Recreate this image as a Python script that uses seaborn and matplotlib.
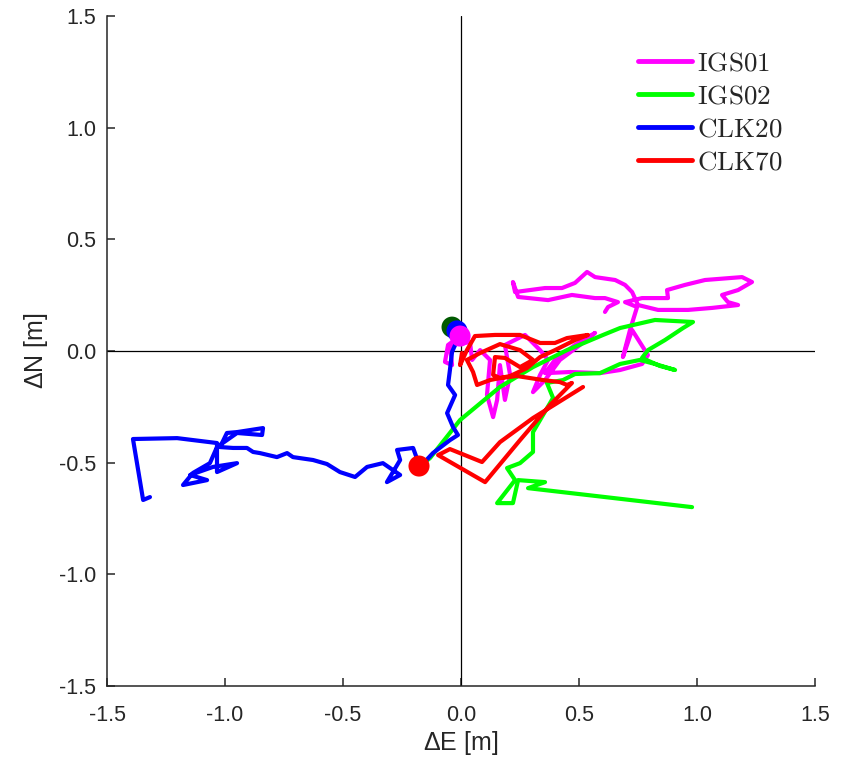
import numpy as np
import pandas as pd
import matplotlib
matplotlib.use("Agg")
import matplotlib.pyplot as plt
import seaborn as sns

# ---------------- data (metres) ----------------
igs01_e = [-0.004, -0.055, -0.068, -0.038, -0.047, 0.038, 0.047, 0.081, 0.123, 0.110, 0.136, 0.153,
           0.165, 0.186, 0.208, 0.186, 0.271, 0.335, 0.369, 0.335, 0.305, 0.356, 0.419, 0.504, 0.568,
           0.483, 0.398, 0.356, 0.462, 0.589, 0.674, 0.767, 0.792, 0.725, 0.686, 0.716, 0.746, 0.695,
           0.767, 0.877, 0.873, 0.949, 1.034, 1.191, 1.233, 1.174, 1.106, 1.131, 1.174, 1.064, 0.962,
           0.835, 0.750, 0.725, 0.695, 0.653, 0.568, 0.534, 0.483, 0.428, 0.356, 0.229, 0.220, 0.242,
           0.369, 0.470, 0.568, 0.610, 0.665, 0.623, 0.610]
igs01_n = [0.067, 0.027, -0.049, -0.063, 0.027, 0.040, -0.040, 0.004, -0.040, -0.197, -0.296, -0.219,
           -0.063, -0.219, -0.107, 0.027, 0.072, 0.004, -0.040, -0.107, -0.184, -0.130, -0.040, 0.027, 0.081,
           0.027, -0.040, -0.099, -0.094, -0.099, -0.085, -0.058, -0.018, 0.094, -0.027, 0.094, 0.197, 0.219,
           0.237, 0.237, 0.273, 0.296, 0.318, 0.331, 0.309, 0.273, 0.251, 0.219, 0.206, 0.193, 0.184,
           0.184, 0.206, 0.264, 0.296, 0.318, 0.331, 0.354, 0.305, 0.282, 0.282, 0.264, 0.309, 0.242,
           0.228, 0.251, 0.237, 0.237, 0.219, 0.197, 0.175]

igs02_e = [-0.174, -0.131, -0.004, 0.165, 0.305, 0.449, 0.602, 0.674, 0.822, 0.983, 0.941, 0.864,
           0.792, 0.767, 0.843, 0.907, 0.822, 0.758, 0.674, 0.589, 0.483, 0.432, 0.364, 0.390, 0.335,
           0.305, 0.305, 0.250, 0.195, 0.229, 0.153, 0.220, 0.242, 0.356, 0.284, 0.979]
igs02_n = [-0.515, -0.479, -0.309, -0.161, -0.072, 0.004, 0.072, 0.103, 0.139, 0.130, 0.103, 0.049,
           0.004, -0.031, -0.067, -0.085, -0.058, -0.040, -0.058, -0.099, -0.103, -0.130, -0.143, -0.210, -0.309,
           -0.363, -0.452, -0.502, -0.524, -0.578, -0.681, -0.681, -0.578, -0.587, -0.614, -0.699]

clk20_e = [-0.013, -0.025, -0.038, -0.047, -0.055, -0.025, -0.059, -0.034, -0.013, -0.047, -0.119, -0.174,
           -0.203, -0.271, -0.258, -0.314, -0.258, -0.331, -0.398, -0.449, -0.513, -0.568, -0.627, -0.712,
           -0.737, -0.780, -0.852, -0.881, -0.907, -0.966, -1.021, -0.992, -0.949, -0.839, -0.843, -0.949,
           -1.034, -1.064, -1.136, -1.178, -1.076, -1.148, -1.051, -0.949, -1.034, -1.034, -1.203, -1.390,
           -1.347, -1.318]
clk20_n = [0.081, 0.027, -0.004, -0.085, -0.152, -0.197, -0.278, -0.340, -0.376, -0.399, -0.457, -0.519,
           -0.434, -0.443, -0.488, -0.587, -0.555, -0.502, -0.519, -0.564, -0.542, -0.506, -0.488, -0.475,
           -0.457, -0.475, -0.457, -0.452, -0.434, -0.434, -0.430, -0.367, -0.363, -0.345, -0.376, -0.367,
           -0.430, -0.502, -0.546, -0.600, -0.578, -0.555, -0.519, -0.502, -0.542, -0.412, -0.390, -0.394,
           -0.667, -0.654]

clk70_e = [0.004, -0.004, 0.025, 0.059, 0.144, 0.250, 0.335, 0.398, 0.449, 0.538, 0.483, 0.398, 0.335,
           0.280, 0.208, 0.123, 0.068, 0.051, 0.025, 0.081, 0.165, 0.250, 0.305, 0.250, 0.186, 0.144, 0.136,
           0.165, 0.237, 0.347, 0.419, 0.449, 0.470, 0.377, 0.250, 0.102, -0.097, -0.047, 0.089, 0.165,
           0.305, 0.517]
clk70_n = [-0.009, -0.063, 0.004, 0.067, 0.072, 0.072, 0.036, 0.036, 0.058, 0.072, 0.049, 0.004, -0.027,
           -0.076, -0.112, -0.130, -0.152, -0.094, -0.040, -0.009, 0.031, 0.004, -0.040, -0.072, -0.031, -0.027,
           -0.107, -0.121, -0.112, -0.130, -0.139, -0.152, -0.143, -0.242, -0.399, -0.587, -0.466, -0.439,
           -0.497, -0.408, -0.300, -0.161]

# start markers
marker_names = ["IGS02", "CLK20", "IGS01", "CLK70"]
marker_e = [-0.038, -0.017, -0.004, -0.178]
marker_n = [0.107, 0.090, 0.067, -0.515]

series_names = ["IGS01", "IGS02", "CLK20", "CLK70"]
series_colors = ["#ff00ff", "#00ff00", "#0000ff", "#ff0000"]
marker_colors = ["#005a00", "#0000ff", "#ff00ff", "#ff0000"]

# ---------------- figure ----------------
sns.set_theme(style="white")
plt.rcParams["font.family"] = ["Liberation Sans", "DejaVu Sans"]
plt.rcParams["mathtext.fontset"] = "cm"

fig = plt.figure(figsize=(8.48, 7.66), dpi=100)
ax = fig.add_axes([0.1262, 0.1044, 0.8349, 0.8747])

ax.axhline(0, color="black", lw=0.9, zorder=1)
ax.axvline(0, color="black", lw=0.9, zorder=1)

data = {
    "IGS01": (igs01_e, igs01_n),
    "IGS02": (igs02_e, igs02_n),
    "CLK20": (clk20_e, clk20_n),
    "CLK70": (clk70_e, clk70_n),
}
for name, col in zip(series_names, series_colors):
    e, n = data[name]
    df = pd.DataFrame({"E": e, "N": n})
    sns.lineplot(data=df, x="E", y="N", sort=False, estimator=None, color=col,
                 lw=3.0, ax=ax, label=r"$\mathrm{%s}$" % name, zorder=3,
                 solid_joinstyle="round", solid_capstyle="round")

for i in range(len(marker_e)):
    sns.scatterplot(x=[marker_e[i]], y=[marker_n[i]], color=marker_colors[i], s=230,
                    edgecolor="none", ax=ax, zorder=5, legend=False)

ax.set_xlim(-1.5, 1.5)
ax.set_ylim(-1.5, 1.5)
ticks = [-1.5, -1.0, -0.5, 0.0, 0.5, 1.0, 1.5]
ax.set_xticks(ticks)
ax.set_yticks(ticks)
ax.set_xticklabels(["%.1f" % t for t in ticks])
ax.set_yticklabels(["%.1f" % t for t in ticks])
ax.tick_params(direction="in", length=6, width=1.1, colors="#262626", labelsize=15.5,
               bottom=True, left=True, top=False, right=False, pad=8)
ax.tick_params(axis="x", pad=14)
for side in ["top", "right"]:
    ax.spines[side].set_visible(False)
for side in ["left", "bottom"]:
    ax.spines[side].set_color("#262626")
    ax.spines[side].set_linewidth(1.1)

ax.set_xlabel(r"$\Delta$E [m]", fontsize=18, color="#262626", labelpad=2)
ax.set_ylabel(r"$\Delta$N [m]", fontsize=18, color="#262626", labelpad=6)
plt.rcParams["mathtext.default"] = "regular"

leg = ax.legend(loc="upper left", bbox_to_anchor=(0.7345, 0.965), frameon=False,
                fontsize=19.5, handlelength=2.0, handletextpad=0.2, labelspacing=0.26,
                borderaxespad=0.0)
for line in leg.get_lines():
    line.set_linewidth(3.5)

fig.savefig("out.png", dpi=100)
